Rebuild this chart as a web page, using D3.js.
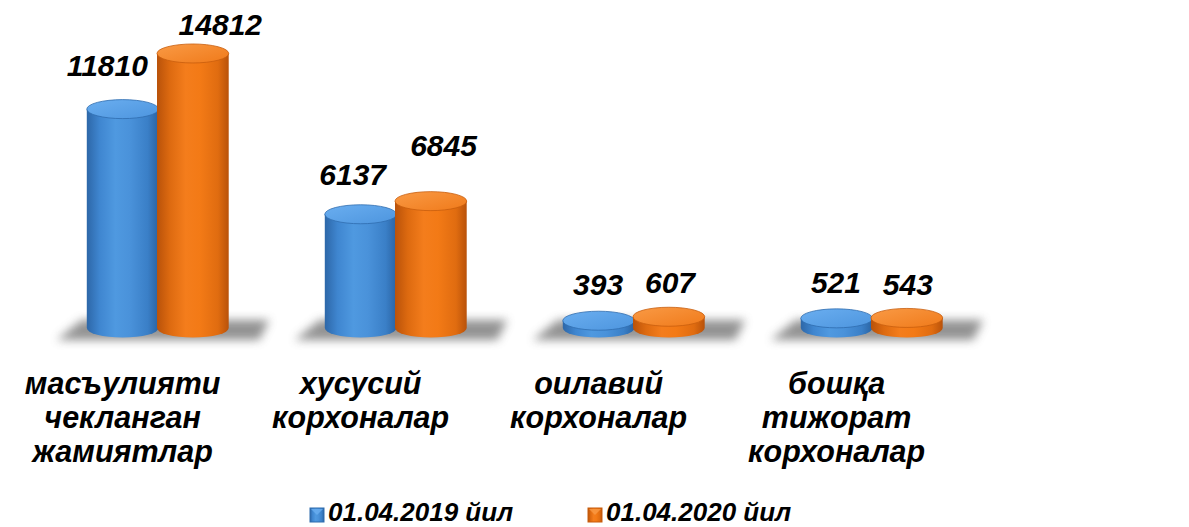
<!DOCTYPE html>
<html><head><meta charset="utf-8">
<script src="https://cdn.jsdelivr.net/npm/d3@7"></script>
<style>
html,body{margin:0;padding:0;background:#fff;}
svg{display:block;}
text{font-family:"Liberation Sans",Arial,sans-serif;font-weight:bold;font-style:italic;fill:#000;}
</style></head>
<body>
<svg id="chart" width="1189" height="527"></svg>
<script>
const categories = [["масъулияти","чекланган","жамиятлар"],["хусусий","корхоналар"],["оилавий","корхоналар"],["бошқа","тижорат","корхоналар"]];
const seriesNames = ["01.04.2019 йил","01.04.2020 йил"];
const values2019 = [11810, 6137, 393, 521];
const values2020 = [14812, 6845, 607, 543];

const svg = d3.select("#chart");
const W = 1189, H = 527;
const defs = svg.append("defs");

const baseY = 328;
const y = d3.scaleLinear().domain([0, 15000]).range([baseY, 50]);
const x0 = d3.scaleBand().domain(d3.range(categories.length)).range([38, 990]).paddingInner(0.41).paddingOuter(0.205);
const x1 = d3.scaleBand().domain([0,1]).range([0, x0.bandwidth()]);
const bw = x1.bandwidth() + 1.5;
const ry = 9.5;

const palettes = [
  {side:["#2d67a8","#3f86d0","#4f99e0","#4a92da","#3a7fc7","#2a63a2"], top:["#6aaef0","#4d95de"], edge:"#2f6cae"},
  {side:["#b9520a","#dd6a10","#f47d1c","#f37a16","#e06c10","#b9520a"], top:["#f99a45","#f07a1a"], edge:"#c85d0c"}
];
palettes.forEach((p,i)=>{
  const g = defs.append("linearGradient").attr("id","side"+i).attr("x1","0").attr("x2","1").attr("y1","0").attr("y2","0");
  const offs=[0,0.18,0.4,0.6,0.85,1];
  p.side.forEach((c,j)=>g.append("stop").attr("offset",offs[j]).attr("stop-color",c));
  const t = defs.append("linearGradient").attr("id","top"+i).attr("x1","0").attr("x2","1").attr("y1","0").attr("y2","1");
  t.append("stop").attr("offset",0).attr("stop-color",p.top[0]);
  t.append("stop").attr("offset",1).attr("stop-color",p.top[1]);
});
const blur = defs.append("filter").attr("id","blur").attr("x","-20%").attr("y","-50%").attr("width","140%").attr("height","200%");
blur.append("feGaussianBlur").attr("stdDeviation",5);
const blur2 = defs.append("filter").attr("id","blur2");
blur2.append("feGaussianBlur").attr("stdDeviation",0.7);

// floor line
svg.append("line").attr("x1",8).attr("x2",W).attr("y1",352).attr("y2",352)
  .attr("stroke","#d4d4d4").attr("stroke-width",2.5).attr("filter","url(#blur2)");

const data = categories.map((c,i)=>({i, vals:[values2019[i], values2020[i]]}));

const groups = svg.selectAll("g.grp").data(data).enter().append("g").attr("class","grp")
  .attr("transform",d=>`translate(${x0(d.i)},0)`);

// shadows
groups.append("path")
  .attr("d",()=>{
    const L=-30, R=x0.bandwidth()+42;
    return `M${L},${baseY+12} L${R-10},${baseY+12} L${R},${baseY-8} L${L+25},${baseY-8} Z`;
  })
  .attr("fill","#6e6e6e").attr("opacity",0.75).attr("filter","url(#blur)");

// cylinders
groups.each(function(d){
  const g = d3.select(this);
  d.vals.forEach((v,s)=>{
    const cx = x1(s) + bw/2;
    const rx = bw/2;
    const top = y(v);
    const bottom = y(0);
    const cg = g.append("g");
    cg.append("path")
      .attr("d",`M${cx-rx},${top} L${cx-rx},${bottom} A${rx},${ry} 0 0 0 ${cx+rx},${bottom} L${cx+rx},${top} Z`)
      .attr("fill",`url(#side${s})`);
    cg.append("ellipse").attr("cx",cx).attr("cy",top).attr("rx",rx).attr("ry",ry)
      .attr("fill",`url(#top${s})`).attr("stroke",palettes[s].edge).attr("stroke-width",0.8);
  });
  d.vals.forEach((v,s)=>{
    const cx = x1(s) + bw/2;
    const top = y(v);
    const h = y(0) - top;
    // perspective-like label spreading as in the reference
    const dx = s === 0 ? -h*0.07 : h*0.1;
    const gap = s === 0 ? 16 + h*0.035 : 12 + h*0.19;
    g.append("text").attr("x",cx + dx).attr("y",Math.max(35, top - ry - gap))
      .attr("text-anchor","middle").attr("font-size",30).text(v);
  });
});

// category labels
groups.append("text")
  .attr("text-anchor","middle").attr("font-size",30.5)
  .attr("transform",()=>`translate(${x1(0)+bw/2},394)`)
  .each(function(d){
    const t=d3.select(this);
    categories[d.i].forEach((line,k)=>t.append("tspan").attr("x",0).attr("y",k*34).text(line));
  });

// legend
const legX = [310, 588];
const leg = svg.selectAll("g.leg").data(seriesNames).enter().append("g").attr("class","leg")
  .attr("transform",(d,i)=>`translate(${legX[i]},504)`);
leg.append("rect").attr("x",0).attr("y",4).attr("width",14).attr("height",14)
  .attr("fill",(d,i)=>`url(#side${i})`).attr("stroke",(d,i)=>palettes[i].edge).attr("stroke-width",1);
leg.append("path").attr("d","M1,5 L13,5 L7,11 Z").attr("fill",(d,i)=>palettes[i].top[0]).attr("opacity",0.8);
leg.append("text").attr("x",18).attr("y",17).attr("font-size",26).text(d=>d);
</script>
</body></html>
